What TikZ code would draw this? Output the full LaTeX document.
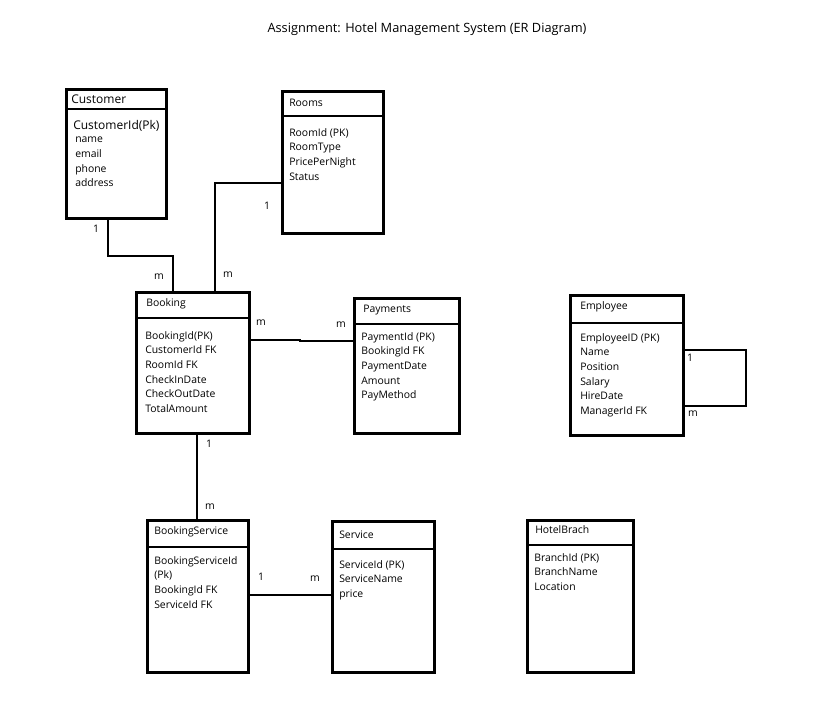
\documentclass[tikz,border=0pt]{standalone}
\usepackage{fontspec}
\setmainfont{Open Sans}
\tikzset{
	entity/.style={draw, line width=2.2pt, anchor=north west, inner sep=0pt},
	link/.style={line width=2.2pt},
	hdr/.style={anchor=west, inner sep=0pt, font=\fontsize{7.8}{10}\selectfont},
	attr/.style={anchor=north west, inner sep=0pt, align=left, font=\fontsize{7.8}{11}\selectfont},
	card/.style={inner sep=0pt, font=\fontsize{7.8}{10}\selectfont}
}
\begin{document}
\begin{tikzpicture}[x=0.75pt, y=-0.75pt]
	\useasboundingbox[fill=white] (0,0) rectangle (819,714);
	\node[font=\fontsize{9.6}{12}\selectfont] (title) at (427,29) {Assignment: Hotel Management System (ER Diagram)};

	% entities
	\node[entity, minimum width=100*0.75pt, minimum height=129*0.75pt] (cust) at (65,88) {};
	\draw[link] (cust.west |- 0,109) -- (cust.east |- 0,109);
	\node[hdr, font=\fontsize{9}{11}\selectfont] (custname) at (71,99) {Customer};
	\node[hdr, font=\fontsize{9}{11}\selectfont] (custkey) at (73,126) {CustomerId(Pk)};
	\node[attr] (custattr) at (75,137) {name\\email\\phone\\address};

	\node[entity, minimum width=101*0.75pt, minimum height=142*0.75pt] (rooms) at (281,90) {};
	\draw[link] (rooms.west |- 0,116) -- (rooms.east |- 0,116);
	\node[hdr] (roomsname) at (289,103) {Rooms};
	\node[attr] (roomsattr) at (289,128) {RoomId (PK)\\RoomType\\PricePerNight\\Status};

	\node[entity, minimum width=113*0.75pt, minimum height=141*0.75pt] (booking) at (135,291) {};
	\draw[link] (booking.west |- 0,318) -- (booking.east |- 0,318);
	\node[hdr] (bookingname) at (146,304) {Booking};
	\node[attr] (bookingattr) at (145,331) {BookingId(PK)\\CustomerId FK\\RoomId FK\\CheckInDate\\CheckOutDate\\TotalAmount};

	\node[entity, minimum width=105*0.75pt, minimum height=135*0.75pt] (payments) at (353,297) {};
	\draw[link] (payments.west |- 0,324) -- (payments.east |- 0,324);
	\node[hdr] (paymentsname) at (363,310) {Payments};
	\node[attr] (paymentsattr) at (361,332) {PaymentId (PK)\\BookingId FK\\PaymentDate\\Amount\\PayMethod};

	\node[entity, minimum width=113*0.75pt, minimum height=140*0.75pt] (employee) at (569,294) {};
	\draw[link] (employee.west |- 0,323) -- (employee.east |- 0,323);
	\node[hdr] (employeename) at (580,307) {Employee};
	\node[attr] (employeeattr) at (580,333) {EmployeeID (PK)\\Name\\Position\\Salary\\HireDate\\ManagerId FK};

	\node[entity, minimum width=101*0.75pt, minimum height=152*0.75pt] (bookserv) at (146,519) {};
	\draw[link] (bookserv.west |- 0,547) -- (bookserv.east |- 0,547);
	\node[hdr] (bookservname) at (154,532) {BookingService};
	\node[attr] (bookservattr) at (154,556) {BookingServiceId\\(Pk)\\BookingId FK\\ServiceId FK};

	\node[entity, minimum width=102*0.75pt, minimum height=151*0.75pt] (service) at (331,520) {};
	\draw[link] (service.west |- 0,549) -- (service.east |- 0,549);
	\node[hdr] (servicename) at (339,535) {Service};
	\node[attr] (serviceattr) at (339,560) {ServiceId (PK)\\ServiceName\\price};

	\node[entity, minimum width=106*0.75pt, minimum height=152*0.75pt] (hotel) at (526,519) {};
	\draw[link] (hotel.west |- 0,545) -- (hotel.east |- 0,545);
	\node[hdr] (hotelname) at (535,530) {HotelBrach};
	\node[attr] (hotelattr) at (534,553) {BranchId (PK)\\BranchName\\Location};

	% relationships
	\draw[link] (cust.south -| 108,0) -- (108,256) -- (173,256) -- (booking.north -| 173,0);
	\node[card] (c1) at (96,229) {1};
	\node[card] (c2) at (159,277) {m};

	\draw[link] (rooms.west |- 0,183) -- (215,183) -- (booking.north -| 215,0);
	\node[card] (c3) at (267,206) {1};
	\node[card] (c4) at (228,275) {m};

	\draw[link] (booking.east |- 0,340) -- (300,340) -- (300,341) -- (payments.west |- 0,341);
	\node[card] (c5) at (261,323) {m};
	\node[card] (c6) at (341,325) {m};

	\draw[link] (booking.south -| 197,0) -- (bookserv.north -| 197,0);
	\node[card] (c7) at (209,444) {1};
	\node[card] (c8) at (210,507) {m};

	\draw[link] (bookserv.east |- 0,595) -- (service.west |- 0,595);
	\node[card] (c9) at (261,577) {1};
	\node[card] (c10) at (315,579) {m};

	\draw[link] (employee.east |- 0,350) -- (746,350) -- (746,406) -- (employee.east |- 0,406);
	\node[card] (c11) at (690,358) {1};
	\node[card] (c12) at (693,414) {m};
\end{tikzpicture}
\end{document}
